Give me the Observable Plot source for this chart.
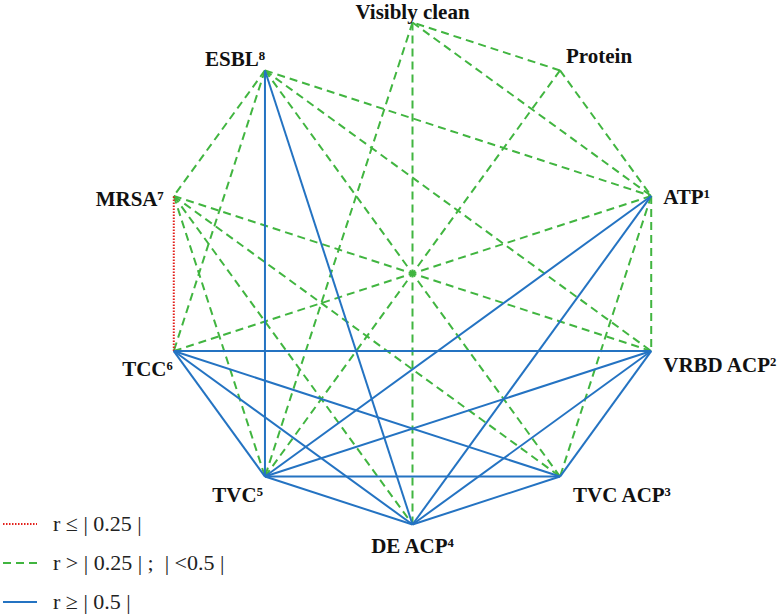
<!DOCTYPE html>
<html><head><meta charset="utf-8">
<script src="https://cdn.jsdelivr.net/npm/d3@7"></script>
<script src="https://cdn.jsdelivr.net/npm/@observablehq/plot@0.6"></script>
<style>
body{margin:0;background:#fff;}
#wrap{position:relative;width:779px;height:616px;}
#legend{position:absolute;left:0;top:0;width:400px;height:616px;pointer-events:none;font-family:'Liberation Serif','DejaVu Serif',serif;font-size:22px;color:#222;}
.row{position:absolute;left:3px;display:flex;align-items:center;white-space:pre;height:26px;}
.row svg{margin-right:16px;}
</style></head><body><div id="wrap"><div id="legend"></div></div>
<script>
// Nodes, clockwise from the top
const nodes = ["Visibly clean","Protein","ATP¹","VRBD ACP²","TVC ACP³","DE ACP⁴","TVC⁵","TCC⁶","MRSA⁷","ESBL⁸"];
// r ≥ |0.5|
const strongLinks = [
  ["ESBL⁸","TVC⁵"],["ESBL⁸","DE ACP⁴"],
  ["TVC⁵","ATP¹"],["DE ACP⁴","ATP¹"],
  ["TCC⁶","VRBD ACP²"],["TVC⁵","VRBD ACP²"],["DE ACP⁴","VRBD ACP²"],["TVC ACP³","VRBD ACP²"],
  ["TCC⁶","TVC⁵"],["TVC⁵","DE ACP⁴"],["TVC⁵","TVC ACP³"],
  ["TCC⁶","TVC ACP³"],["TCC⁶","DE ACP⁴"],["DE ACP⁴","TVC ACP³"]
];
// r > |0.25| ; |<0.5|
const moderateLinks = [
  ["Protein","Visibly clean"],["Visibly clean","ATP¹"],["DE ACP⁴","Visibly clean"],["Visibly clean","TVC⁵"],
  ["Protein","ATP¹"],["Protein","TVC⁵"],
  ["ESBL⁸","MRSA⁷"],["ESBL⁸","TCC⁶"],["ESBL⁸","ATP¹"],["ESBL⁸","VRBD ACP²"],["ESBL⁸","TVC ACP³"],
  ["MRSA⁷","VRBD ACP²"],["MRSA⁷","TVC ACP³"],["MRSA⁷","DE ACP⁴"],["MRSA⁷","TVC⁵"],
  ["TCC⁶","ATP¹"],["ATP¹","VRBD ACP²"],["ATP¹","TVC ACP³"]
];
// r ≤ |0.25|
const weakLinks = [["TCC⁶","MRSA⁷"]];
const legendLabels = ["r ≤ | 0.25 |","r > | 0.25 | ;  | <0.5 |","r ≥ | 0.5 |"];

const GREEN = "#41b540", BLUE = "#2473c2", RED = "#e3211c";
const SERIF = "'Liberation Serif', 'DejaVu Serif', serif";

// decagon layout
const pos = new Map(nodes.map((n, i) => {
  const a = (90 - i * 36) * Math.PI / 180;
  return [n, {x: Math.cos(a), y: Math.sin(a)}];
}));
const nodeData = nodes.map((n, i) => ({name: n, i, ...pos.get(n)}));
const toLinks = arr => arr.map(([a, b]) => ({x1: pos.get(a).x, y1: pos.get(a).y, x2: pos.get(b).x, y2: pos.get(b).y}));

// label placement (layout only)
const place = [
  {dx: 0, dy: -10, anchor: "middle"},
  {dx: 6, dy: -14, anchor: "start"},
  {dx: 12, dy: 1, anchor: "start"},
  {dx: 12, dy: 14, anchor: "start"},
  {dx: 13, dy: 19, anchor: "start"},
  {dx: 0, dy: 22, anchor: "middle"},
  {dx: -2, dy: 19, anchor: "end"},
  {dx: -1, dy: 18, anchor: "end"},
  {dx: -10, dy: 3, anchor: "end"},
  {dx: 0, dy: -11, anchor: "end"}
];

const labelMarks = nodeData.map(d => Plot.text([d], {
  x: "x", y: "y", text: "name", dx: place[d.i].dx, dy: place[d.i].dy,
  textAnchor: place[d.i].anchor, fontWeight: "bold", fontSize: 21,
  fontFamily: SERIF, fill: "#111"
}));

const chart = Plot.plot({
  width: 779, height: 616,
  marginLeft: 161, marginRight: 116, marginTop: 22, marginBottom: 92,
  x: {domain: [-1, 1], axis: null},
  y: {domain: [-1, 1], axis: null},
  style: {background: "transparent", overflow: "visible", fontFamily: SERIF},
  marks: [
    Plot.link(toLinks(moderateLinks), {x1: "x1", y1: "y1", x2: "x2", y2: "y2", stroke: GREEN, strokeWidth: 2, strokeDasharray: "8,5"}),
    Plot.link(toLinks(weakLinks), {x1: "x1", y1: "y1", x2: "x2", y2: "y2", stroke: RED, strokeWidth: 2, strokeDasharray: "1.5,1.5"}),
    Plot.link(toLinks(strongLinks), {x1: "x1", y1: "y1", x2: "x2", y2: "y2", stroke: BLUE, strokeWidth: 2}),
    ...labelMarks
  ]
});
document.getElementById("wrap").prepend(chart);

// legend
const legend = document.getElementById("legend");
const styles = [
  {stroke: RED, dash: "1.5,1.5"},
  {stroke: GREEN, dash: "8,5"},
  {stroke: BLUE, dash: null}
];
const tops = [511, 550, 589];
legendLabels.forEach((lab, k) => {
  const row = document.createElement("div");
  row.className = "row";
  row.style.top = tops[k] + "px";
  const s = styles[k];
  row.innerHTML = `<svg width="34" height="6"><line x1="0" y1="3" x2="34" y2="3" stroke="${s.stroke}" stroke-width="2" ${s.dash ? `stroke-dasharray="${s.dash}"` : ""}/></svg><span>${lab}</span>`;
  legend.appendChild(row);
});
</script>
</body></html>
